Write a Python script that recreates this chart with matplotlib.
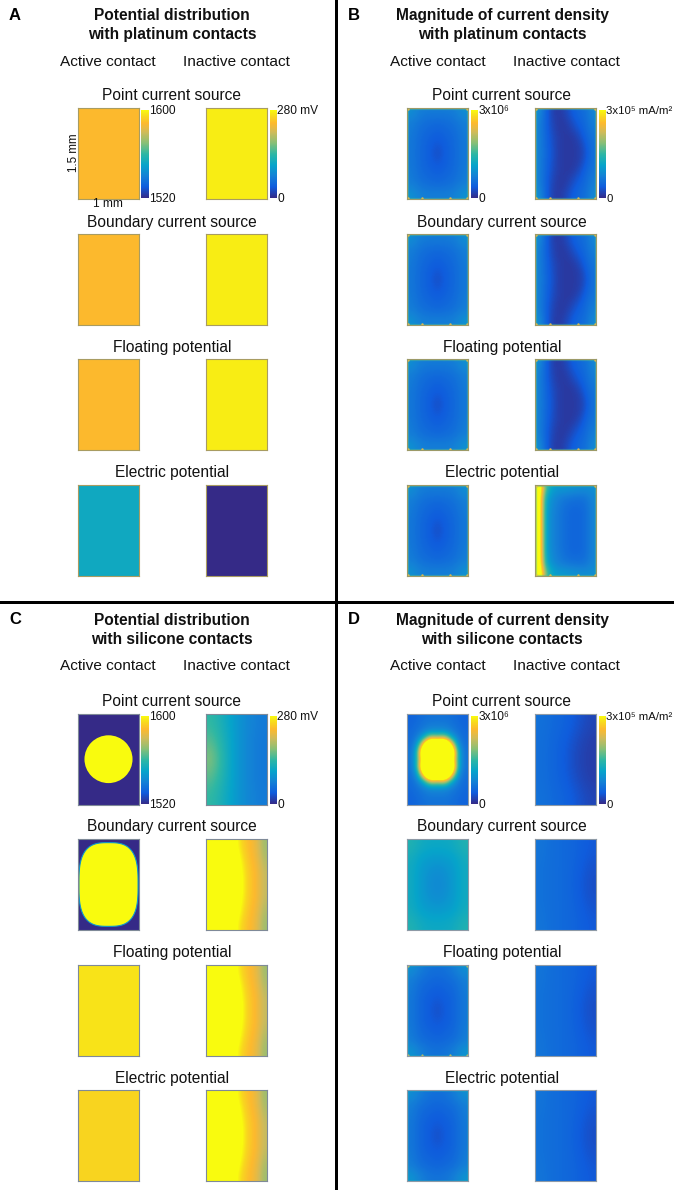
import matplotlib
matplotlib.use("Agg")
import numpy as np
import matplotlib.pyplot as plt
from matplotlib.colors import LinearSegmentedColormap, Normalize
from matplotlib.cm import ScalarMappable
from matplotlib.patches import Circle, Polygon, Rectangle

W, H = 674, 1190
plt.rcParams['font.family'] = ['Liberation Sans', 'DejaVu Sans']

parula = LinearSegmentedColormap.from_list("parula", [
    (0.0, "#352a87"), (0.125, "#0f5cdd"), (0.25, "#1481d6"), (0.375, "#06a4ca"),
    (0.5, "#2eb7a4"), (0.625, "#87bf77"), (0.75, "#d1bb59"), (0.85, "#fdb92e"),
    (0.93, "#f8d81e"), (1.0, "#f9fb0e")])

row_names = ["Point current source", "Boundary current source",
             "Floating potential", "Electric potential"]
column_names = ["Active contact", "Inactive contact"]
panel_letters = ["A", "B", "C", "D"]
panel_titles = ["Potential distribution\nwith platinum contacts",
                "Magnitude of current density\nwith platinum contacts",
                "Potential distribution\nwith silicone contacts",
                "Magnitude of current density\nwith silicone contacts"]
potential_active_ticks = ["1520", "1600"]
potential_inactive_ticks = ["0", "280 mV"]
density_active_ticks = ["0", "3x10⁶"]
density_inactive_ticks = ["0", "3x10⁵ mA/m²"]

# Colour-scale fractions (values above 1 saturate at yellow)
a_active = [[0.85]]
a_inactive = [[0.97]]
a_elec_active = [[0.41]]
a_elec_inactive = [[0.0]]

b_active = [
    [.30, .24, .23, .23, .23, .24, .30],
    [.24, .20, .18, .17, .18, .20, .24],
    [.23, .18, .16, .14, .16, .18, .23],
    [.22, .17, .14, .11, .14, .17, .22],
    [.22, .17, .14, .08, .14, .17, .22],
    [.22, .17, .14, .11, .14, .17, .22],
    [.23, .18, .16, .14, .16, .18, .23],
    [.24, .20, .18, .17, .18, .20, .24],
    [.31, .25, .24, .24, .24, .25, .31]]
b_inactive = [
    [.30, .17, .06, .04, .07, .13, .17, .19, .27],
    [.27, .16, .07, .04, .05, .10, .15, .18, .25],
    [.26, .16, .08, .04, .04, .07, .12, .17, .23],
    [.26, .17, .09, .05, .04, .04, .08, .15, .21],
    [.26, .17, .10, .05, .04, .04, .05, .12, .20],
    [.26, .18, .10, .05, .04, .04, .05, .10, .20],
    [.26, .17, .10, .05, .04, .04, .05, .12, .20],
    [.26, .17, .09, .05, .04, .04, .08, .15, .21],
    [.26, .16, .08, .04, .04, .07, .12, .17, .23],
    [.27, .16, .07, .04, .05, .10, .15, .18, .25],
    [.31, .17, .06, .04, .07, .13, .17, .19, .28]]
b_elec_inactive = [
    [1.3, .55, .36, .33, .33, .31, .30, .29, .30],
    [1.25, .42, .30, .25, .22, .21, .20, .21, .27],
    [1.25, .40, .28, .23, .19, .17, .17, .19, .26],
    [1.25, .38, .27, .22, .18, .16, .16, .18, .26],
    [1.25, .38, .27, .22, .18, .16, .16, .18, .26],
    [1.25, .38, .27, .22, .18, .16, .16, .18, .26],
    [1.25, .38, .27, .22, .18, .16, .16, .18, .26],
    [1.25, .38, .27, .22, .18, .16, .16, .18, .26],
    [1.25, .40, .28, .23, .19, .17, .17, .19, .26],
    [1.25, .44, .30, .25, .22, .21, .20, .21, .27],
    [1.35, .60, .38, .34, .33, .31, .30, .29, .30]]

c_point_background = [[0.0]]
c_floating_active = [[0.95]]
c_elec_active = [[0.92]]
c_point_inactive = [
    [.50, .44, .37, .30, .26, .23],
    [.56, .47, .38, .30, .25, .22],
    [.63, .50, .38, .30, .25, .22],
    [.56, .47, .38, .30, .25, .22],
    [.50, .44, .37, .30, .26, .23]]
c_rest_inactive = [
    [1.3, 1.3, 1.3, 1.2, 1.0, .90, .85, .80, .66],
    [1.3, 1.3, 1.3, 1.25, 1.07, .94, .86, .82, .69],
    [1.3, 1.3, 1.3, 1.3, 1.12, .97, .88, .84, .73],
    [1.3, 1.3, 1.3, 1.3, 1.15, .98, .88, .84, .73],
    [1.3, 1.3, 1.3, 1.3, 1.12, .97, .88, .84, .73],
    [1.3, 1.3, 1.3, 1.25, 1.07, .94, .86, .82, .69],
    [1.3, 1.3, 1.3, 1.2, 1.0, .90, .85, .80, .66]]
c_circle_radius = 0.394             # fraction of the contact width
c_rounded_half_width = 0.485
c_rounded_half_height = 0.69
c_rounded_exponent = 3.0

d_point_active = [
    [.15, .17, .19, .20, .20, .20, .19, .17, .15],
    [.16, .18, .21, .23, .23, .23, .21, .18, .16],
    [.17, .20, .25, .30, .30, .30, .25, .20, .17],
    [.18, .24, .46, .85, .75, .85, .46, .24, .18],
    [.19, .32, 1.1, 2.0, 1.8, 2.0, 1.1, .32, .19],
    [.20, .42, 1.6, 2.2, 2.2, 2.2, 1.6, .42, .20],
    [.20, .42, 1.3, 2.2, 2.2, 2.2, 1.3, .42, .20],
    [.20, .42, 1.6, 2.2, 2.2, 2.2, 1.6, .42, .20],
    [.19, .32, 1.1, 2.0, 1.8, 2.0, 1.1, .32, .19],
    [.18, .24, .46, .85, .75, .85, .46, .24, .18],
    [.17, .20, .25, .30, .30, .30, .25, .20, .17],
    [.16, .18, .21, .23, .23, .23, .21, .18, .16],
    [.15, .17, .19, .20, .20, .20, .19, .17, .15]]
d_point_inactive = [
    [.20, .17, .15, .11, .07],
    [.19, .16, .13, .08, .05],
    [.19, .16, .12, .07, .05],
    [.19, .16, .13, .08, .05],
    [.20, .17, .15, .11, .07]]
d_boundary_active = [
    [.46, .42, .40, .40, .40, .42, .46],
    [.42, .37, .35, .34, .35, .37, .42],
    [.41, .35, .31, .29, .31, .35, .41],
    [.41, .35, .30, .27, .30, .35, .41],
    [.41, .35, .31, .29, .31, .35, .41],
    [.42, .37, .35, .34, .35, .37, .42],
    [.46, .42, .40, .40, .40, .42, .46]]
d_rest_inactive = [
    [.21, .18, .17, .15, .12],
    [.20, .18, .17, .14, .10],
    [.20, .18, .17, .13, .09],
    [.20, .18, .17, .14, .10],
    [.21, .18, .17, .15, .12]]
d_rest_active = [
    [.30, .24, .20, .19, .20, .24, .30],
    [.24, .19, .17, .16, .17, .19, .24],
    [.23, .17, .15, .13, .15, .17, .23],
    [.22, .16, .13, .11, .13, .16, .22],
    [.22, .16, .13, .09, .13, .16, .22],
    [.22, .16, .13, .11, .13, .16, .22],
    [.23, .17, .15, .13, .15, .17, .23],
    [.24, .19, .17, .16, .17, .19, .24],
    [.32, .25, .21, .20, .21, .25, .32]]

fields = {
    "A": [(a_active, a_inactive), (a_active, a_inactive),
          (a_active, a_inactive), (a_elec_active, a_elec_inactive)],
    "B": [(b_active, b_inactive), (b_active, b_inactive),
          (b_active, b_inactive), (b_active, b_elec_inactive)],
    "C": [(c_point_background, c_point_inactive), (c_point_background, c_rest_inactive),
          (c_floating_active, c_rest_inactive), (c_elec_active, c_rest_inactive)],
    "D": [(d_point_active, d_point_inactive), (d_boundary_active, d_rest_inactive),
          (d_rest_active, d_rest_inactive), (d_rest_active, d_rest_inactive)],
}
frame_colors = {"A": "#a89c62", "B": "#9c9a68", "C": "#7f8a98", "D": "#8e9aa6"}
# speckled bright spots along the contact rim, as fractions of width / length
speckle_x = [0.02, 0.98, 0.02, 0.98, 0.25, 0.7]
speckle_y = [0.02, 0.02, 1.48, 1.48, 1.48, 1.48]

fig = plt.figure(figsize=(W / 100, H / 100), dpi=100, facecolor="white")


def add_axes_px(x0, y0, x1, y1):
    return fig.add_axes([x0 / W, 1 - y1 / H, (x1 - x0) / W, (y1 - y0) / H])


def label(x, y, s, **kw):
    kw.setdefault("ha", "center")
    kw.setdefault("va", "center")
    kw.setdefault("color", "#111111")
    fig.text(x / W, 1 - y / H, s, **kw)


def colorbar(x0, x1, y0, y1, ticks, size=8.6):
    cax = add_axes_px(x0, y0, x1, y1)
    sm = ScalarMappable(norm=Normalize(0, 1), cmap=parula)
    cb = fig.colorbar(sm, cax=cax)
    cb.set_ticks([0, 1], labels=ticks)
    cb.ax.tick_params(length=0, pad=0.3, labelsize=size, colors="#111111")
    cb.outline.set_visible(False)


ACTIVE_X = {"left": (78, 139), "right": (407, 468)}
INACTIVE_X = {"left": (206, 267), "right": (535, 596)}
ROW_TOPS = {"top": [108, 234, 359, 485], "bottom": [714, 839, 965, 1090]}
ROW_H = 91

for letter, title in zip(panel_letters, panel_titles):
    side = "left" if letter in "AC" else "right"
    level = "top" if letter in "AB" else "bottom"
    xoff = 0 if side == "left" else 330
    yoff = 0 if level == "top" else 605
    label(9 + (0 if side == "left" else 339), 15 + yoff, letter, ha="left",
          fontsize=12, fontweight="bold", color="black")
    label(172 + xoff, 25 + yoff, title, fontsize=11.2, fontweight="bold",
          linespacing=1.4)
    label(108 + xoff, 61.5 + yoff, column_names[0], fontsize=11.1)
    label(236 + xoff, 61.5 + yoff, column_names[1], fontsize=11.1)
    for r, name in enumerate(row_names):
        top = ROW_TOPS[level][r]
        label(172 + xoff, top - 12, name, fontsize=11.2)
        for c, xs in enumerate((ACTIVE_X[side], INACTIVE_X[side])):
            ax = add_axes_px(xs[0], top, xs[1], top + ROW_H)
            ax.imshow(fields[letter][r][c], cmap=parula, norm=Normalize(0, 1),
                      extent=(0, 1, 1.5, 0), aspect="auto",
                      interpolation="bicubic", interpolation_stage="data")
            ax.set_xticks([])
            ax.set_yticks([])
            for sp in ax.spines.values():
                sp.set_color(frame_colors[letter])
                sp.set_linewidth(0.8)
            if letter == "B":
                ax.add_patch(Rectangle((0.012, 0.012), 0.976, 1.476, fill=False,
                                       ec=parula(0.55), lw=0.9, alpha=0.45))
                ax.scatter(speckle_x, speckle_y, s=3, color=parula(0.78), lw=0)
            if letter == "D" and c == 0 and r >= 2:
                ax.add_patch(Rectangle((0.012, 0.012), 0.976, 1.476, fill=False,
                                       ec=parula(0.45), lw=0.8, alpha=0.3))
                if r == 2:
                    ax.scatter(speckle_x, speckle_y, s=2.5, color=parula(0.7), lw=0)
            if letter == "C" and c == 0 and r == 0:
                ax.add_patch(Circle((0.5, 0.745), c_circle_radius,
                                    color=parula(1.0), lw=0))
            if letter == "C" and c == 0 and r == 1:
                t = np.linspace(0, 2 * np.pi, 240)
                e = 2 / c_rounded_exponent
                outline = np.column_stack([
                    0.5 + c_rounded_half_width * np.sign(np.cos(t)) * np.abs(np.cos(t)) ** e,
                    0.75 + c_rounded_half_height * np.sign(np.sin(t)) * np.abs(np.sin(t)) ** e])
                ax.add_patch(Polygon(outline, closed=True, fc=parula(1.0),
                                     ec=parula(0.33), lw=0.8))
            if letter == "A" and r == 0 and c == 0:
                label(74, top + 45, "1.5 mm", rotation=90, fontsize=8.4)
                label(108, top + ROW_H + 5, "1 mm", fontsize=8.6)
        if r == 0:
            if side == "left":
                colorbar(141, 148.5, top + 2, top + 90, potential_active_ticks)
                colorbar(269.5, 277, top + 2, top + 90, potential_inactive_ticks)
            else:
                colorbar(471, 478, top + 2, top + 90, density_active_ticks)
                colorbar(599, 606, top + 2, top + 90, density_inactive_ticks, size=8.2)

fig.add_artist(Rectangle((334.5 / W, 0), 3.5 / W, 1, transform=fig.transFigure,
                         color="black", lw=0))
fig.add_artist(Rectangle((0, 1 - 604 / H), 1, 3.5 / H, transform=fig.transFigure,
                         color="black", lw=0))

fig.savefig("out.png", dpi=100, facecolor="white")
